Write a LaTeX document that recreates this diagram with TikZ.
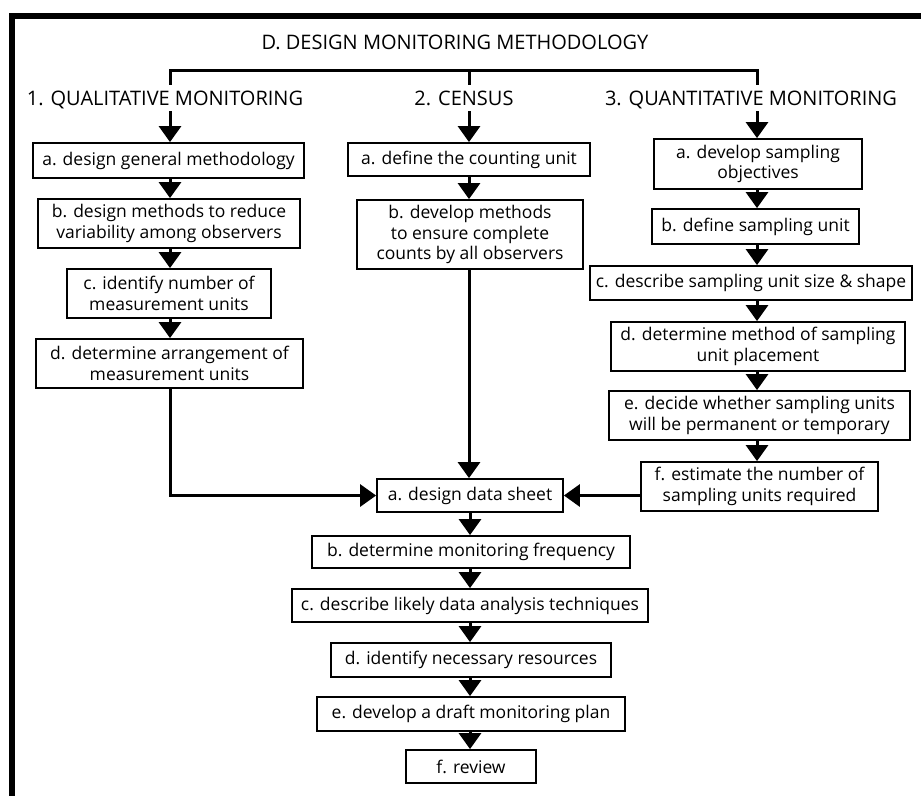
\documentclass[tikz,border=0pt]{standalone}
\usepackage{fontspec}
\setmainfont{Open Sans}
\usetikzlibrary{arrows.meta}
\begin{document}
\begin{tikzpicture}[x=1pt,y=-1pt,
  stepbox/.style={draw,line width=1.8pt,align=center,inner sep=0pt,
    font=\fontsize{17.5}{20.5}\selectfont},
  heading/.style={inner sep=0pt,text height=14.5pt,text depth=0pt,
    minimum height=26pt,font=\fontsize{20}{24}\selectfont},
  conn/.style={line width=3pt},
  arr/.style={conn,-{Triangle[width=22pt,length=16pt]}}
]
\useasboundingbox (0,0) rectangle (921,796);
\fill[white] (0,0) rectangle (921,796);

% outer frame: top and left edges only
\draw[line width=6pt,line join=miter] (921,16) -- (12,16) -- (12,796);

% column axes
\coordinate (ax1) at (170,0);
\coordinate (ax2) at (469,0);
\coordinate (ax3) at (757,0);
\coordinate (axm) at (470,0);
\coordinate (br) at (0,70);

% title and column headings
\node[heading] (title) at (455,42) {D. DESIGN MONITORING METHODOLOGY};
\node[heading] (h1) at (165,98) {1. QUALITATIVE MONITORING};
\node[heading] (h2) at (464,98) {2. CENSUS};
\node[heading] (h3) at (751,98) {3. QUANTITATIVE MONITORING};

% bracket joining the three methods
\draw[conn,line join=miter] (h1.north -| ax1) -- (br -| ax1) -- (br -| ax3) -- (h3.north -| ax3);
\draw[conn] (br -| ax2) -- (h2.north -| ax2);

% 1. qualitative monitoring
\node[stepbox,minimum width=271pt,minimum height=35pt] (a1) at (168.5,160.5) {a. design general methodology};
\node[stepbox,minimum width=262pt,minimum height=49pt] (b1) at (169,223.5) {b. design methods to reduce\\variability among observers};
\node[stepbox,minimum width=204pt,minimum height=49pt] (c1) at (169,293.5) {c. identify number of\\measurement units};
\node[stepbox,minimum width=267pt,minimum height=49pt] (d1) at (169.5,363.5) {d. determine arrangement of\\measurement units};

% 2. census
\node[stepbox,minimum width=242pt,minimum height=33pt] (a2) at (469,159.5) {a. define the counting unit};
\node[stepbox,minimum width=226pt,minimum height=69pt] (b2) at (470,234.5) {b. develop methods\\to ensure complete\\counts by all observers};

% 3. quantitative monitoring
\node[stepbox,minimum width=208pt,minimum height=50pt] (a3) at (758,164) {a. develop sampling\\objectives};
\node[stepbox,minimum width=207pt,minimum height=35pt] (b3) at (755.5,226.5) {b. define sampling unit};
\node[stepbox,minimum width=322pt,minimum height=34pt] (c3) at (751,283) {c. describe sampling unit size \& shape};
\node[stepbox,minimum width=294pt,minimum height=49pt] (d3) at (758,346.5) {d. determine method of sampling\\unit placement};
\node[stepbox,minimum width=301pt,minimum height=49pt] (e3) at (759.5,415.5) {e. decide whether sampling units\\will be permanent or temporary};
\node[stepbox,minimum width=237pt,minimum height=49pt] (f3) at (759.5,486.5) {f. estimate the number of\\sampling units required};

% common steps
\node[stepbox,minimum width=186pt,minimum height=33pt] (sa) at (470,495.5) {a. design data sheet};
\node[stepbox,minimum width=318pt,minimum height=32pt] (sb) at (471,552) {b. determine monitoring frequency};
\node[stepbox,minimum width=356pt,minimum height=33pt] (sc) at (470,605.5) {c. describe likely data analysis techniques};
\node[stepbox,minimum width=280pt,minimum height=34pt] (sd) at (471,660) {d. identify necessary resources};
\node[stepbox,minimum width=308pt,minimum height=34pt] (se) at (471,714) {e. develop a draft monitoring plan};
\node[stepbox,minimum width=130pt,minimum height=33pt] (sf) at (471,766.5) {f. review};

% heading arrows
\draw[arr] (h1.south -| ax1) -- (a1.north -| ax1);
\draw[arr] (h2.south -| ax2) -- (a2.north -| ax2);
\draw[arr] (h3.south -| ax3) -- (a3.north -| ax3);

% arrows within columns
\draw[arr] (a1.south -| ax1) -- (b1.north -| ax1);
\draw[arr] (b1.south -| ax1) -- (c1.north -| ax1);
\draw[arr] (c1.south -| ax1) -- (d1.north -| ax1);

\draw[arr] (a2.south -| ax2) -- (b2.north -| ax2);

\draw[arr] (a3.south -| ax3) -- (b3.north -| ax3);
\draw[arr] (b3.south -| ax3) -- (c3.north -| ax3);
\draw[arr] (c3.south -| ax3) -- (d3.north -| ax3);
\draw[arr] (d3.south -| ax3) -- (e3.north -| ax3);
\draw[arr] (e3.south -| ax3) -- (f3.north -| ax3);

% joining the data sheet step
\draw[arr,line join=miter] (d1.south -| ax1) |- (sa.west);
\draw[arr] (b2.south -| ax2) -- (sa.north -| ax2);
\draw[arr] (f3.west |- sa.east) -- (sa.east);

% common chain
\draw[arr] (sa.south -| axm) -- (sb.north -| axm);
\draw[arr] (sb.south -| axm) -- (sc.north -| axm);
\draw[arr] (sc.south -| axm) -- (sd.north -| axm);
\draw[arr] (sd.south -| axm) -- (se.north -| axm);
\draw[arr] (se.south -| axm) -- (sf.north -| axm);
\end{tikzpicture}
\end{document}
